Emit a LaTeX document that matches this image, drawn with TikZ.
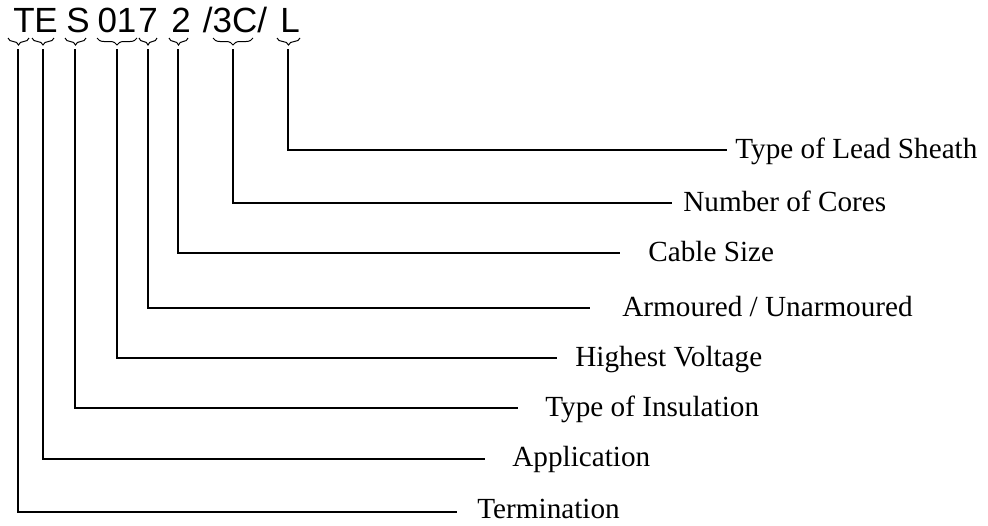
\documentclass[tikz,border=0pt]{standalone}
\usepackage{fontspec}
\setmainfont{Liberation Serif}
\setsansfont{Liberation Sans}
\usetikzlibrary{decorations.pathreplacing}
\begin{document}
\begin{tikzpicture}[x=0.5pt,y=-0.5pt,
  codetxt/.style={font=\sffamily\fontsize{17.5}{20}\selectfont, anchor=base, inner sep=0pt},
  lbl/.style={font=\fontsize{14.6}{17}\selectfont, anchor=base west, inner sep=0pt},
  brc/.style={decorate, decoration={brace, mirror, amplitude=3.5pt}, line width=0.5pt},
  ln/.style={line width=1.1pt}]
\useasboundingbox (0,0) rectangle (988,525);
% code characters
\node[codetxt] (cT) at (24,32) {T};
\node[codetxt] (cE) at (46,32) {E};
\node[codetxt] (cS) at (78,32) {S};
\node[codetxt] (c01) at (117,32) {01};
\node[codetxt] (c7) at (148,32) {7};
\node[codetxt] (c2) at (181,32) {2};
\node[codetxt] (c3C) at (235,32) {/3C/};
\node[codetxt] (cL) at (290,32) {L};
% braces
\draw[brc] (8,38) -- (29,38);
\draw[brc] (32,38) -- (54,38);
\draw[brc] (65,38) -- (86,38);
\draw[brc] (97,38) -- (137,38);
\draw[brc] (139,38) -- (157,38);
\draw[brc] (169,38) -- (188,38);
\draw[brc] (213,38) -- (253,38);
\draw[brc] (277,38) -- (300,38);
% tips
\coordinate (t1) at (18,49);
\coordinate (t2) at (43,49);
\coordinate (t3) at (75,49);
\coordinate (t4) at (117,49);
\coordinate (t5) at (148,49);
\coordinate (t6) at (178,49);
\coordinate (t7) at (233,49);
\coordinate (t8) at (288,49);
% line ends
\coordinate (e1) at (457,512);
\coordinate (e2) at (485,459);
\coordinate (e3) at (518,408);
\coordinate (e4) at (557,358);
\coordinate (e5) at (590,308);
\coordinate (e6) at (620,253);
\coordinate (e7) at (672,203);
\coordinate (e8) at (727,150);
% labels
\node[lbl] (l1) at (477,518) {Termination};
\node[lbl] (l2) at (512,466) {Application};
\node[lbl] (l3) at (545,416) {Type of Insulation};
\node[lbl] (l4) at (575,366) {Highest Voltage};
\node[lbl] (l5) at (622,316) {Armoured / Unarmoured};
\node[lbl] (l6) at (648,261) {Cable Size};
\node[lbl] (l7) at (683,211) {Number of Cores};
\node[lbl] (l8) at (735,158) {Type of Lead Sheath};
% connectors
\foreach \i in {1,...,8} {\draw[ln] (t\i) |- (e\i);}
\end{tikzpicture}
\end{document}
